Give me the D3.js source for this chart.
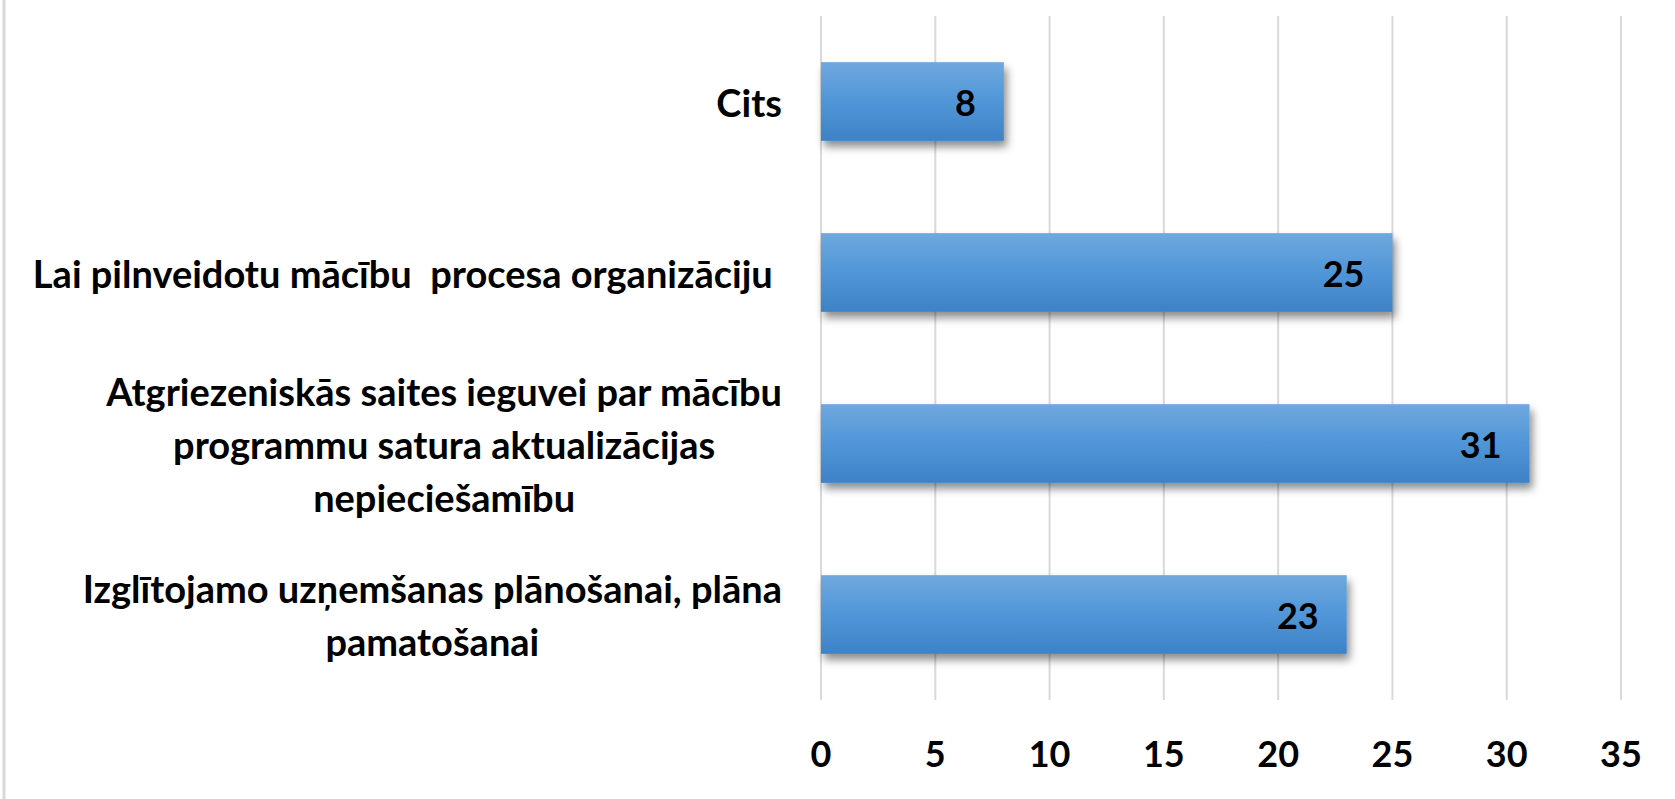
<!DOCTYPE html>
<html>
<head>
<meta charset="utf-8">
<script src="https://cdn.jsdelivr.net/npm/d3@7"></script>
<style>
  body { margin: 0; background: #fff; }
  svg { display: block; }
</style>
</head>
<body>
<div id="chart"></div>
<script>
const categories = [
    ["Cits"],
    ["Lai pilnveidotu mācību  procesa organizāciju "],
    ["Atgriezeniskās saites ieguvei par mācību", "programmu satura aktualizācijas", "nepieciešamību"],
    ["Izglītojamo uzņemšanas plānošanai, plāna", "pamatošanai"]
];
const values = [8, 25, 31, 23];
const xTicks = [0, 5, 10, 15, 20, 25, 30, 35];

const width = 1675;
const height = 799;
const fontFam = "Lato, 'Open Sans', sans-serif";

const svg = d3.select("#chart")
    .append("svg")
    .attr("width", width)
    .attr("height", height);

const defs = svg.append("defs");
const grad = defs.append("linearGradient")
    .attr("id", "barGrad")
    .attr("x1", 0).attr("y1", 0).attr("x2", 0).attr("y2", 1);
grad.append("stop").attr("offset", "0%").attr("stop-color", "#6fa8de");
grad.append("stop").attr("offset", "50%").attr("stop-color", "#5096d8");
grad.append("stop").attr("offset", "100%").attr("stop-color", "#3e82c6");

const shadow = defs.append("filter")
    .attr("id", "shadow")
    .attr("x", "-10%").attr("y", "-20%")
    .attr("width", "130%").attr("height", "160%");
shadow.append("feDropShadow")
    .attr("dx", 3).attr("dy", 6)
    .attr("stdDeviation", 4)
    .attr("flood-color", "#000")
    .attr("flood-opacity", 0.45);

// left border of the frame
svg.append("line")
    .attr("x1", 4).attr("x2", 4)
    .attr("y1", 0).attr("y2", height)
    .attr("stroke", "#d9d9d9")
    .attr("stroke-width", 3);

const x = d3.scaleLinear()
    .domain([0, 35])
    .range([821, 1621]);

const y = d3.scaleBand()
    .domain(d3.range(categories.length))
    .range([16, 700])
    .paddingInner(0.54)
    .paddingOuter(0.27);

// gridlines
svg.append("g")
    .selectAll("line")
    .data(xTicks)
    .enter().append("line")
    .attr("x1", d => x(d))
    .attr("x2", d => x(d))
    .attr("y1", 16)
    .attr("y2", 700)
    .attr("stroke", "#d9d9d9")
    .attr("stroke-width", 2);

// tick labels
svg.append("g")
    .selectAll("text")
    .data(xTicks)
    .enter().append("text")
    .attr("x", d => x(d))
    .attr("y", 753)
    .attr("text-anchor", "middle")
    .attr("dominant-baseline", "central")
    .style("font-family", fontFam)
    .style("font-weight", "700")
    .style("font-size", "36px")
    .style("fill", "#000")
    .text(d => d);

// bars
svg.append("g")
    .selectAll("rect")
    .data(values)
    .enter().append("rect")
    .attr("x", x(0))
    .attr("y", (d, i) => y(i))
    .attr("width", d => x(d) - x(0))
    .attr("height", y.bandwidth())
    .attr("fill", "url(#barGrad)")
    .attr("filter", "url(#shadow)");

// value labels
svg.append("g")
    .selectAll("text")
    .data(values)
    .enter().append("text")
    .attr("x", d => x(d) - 28)
    .attr("y", (d, i) => y(i) + y.bandwidth() / 2)
    .attr("text-anchor", "end")
    .attr("dominant-baseline", "central")
    .style("font-family", fontFam)
    .style("font-weight", "700")
    .style("font-size", "36px")
    .style("fill", "#000")
    .text(d => d);

// category labels, block right-aligned, lines centred on widest line
const lineH = 53;
const labelRight = 782;
const catG = svg.append("g");
categories.forEach((lines, i) => {
    const g = catG.append("g");
    const cy = y(i) + y.bandwidth() / 2;
    const texts = lines.map((s, j) => g.append("text")
        .attr("y", cy + (j - (lines.length - 1) / 2) * lineH)
        .attr("dominant-baseline", "central")
        .attr("text-anchor", "middle")
        .style("font-family", fontFam)
        .style("font-weight", "700")
        .style("font-size", "38px")
        .style("fill", "#000")
        .style("white-space", "pre")
        .text(s));
    const maxW = d3.max(texts, t => t.node().getComputedTextLength());
    texts.forEach(t => t.attr("x", labelRight - maxW / 2));
});
</script>
</body>
</html>
